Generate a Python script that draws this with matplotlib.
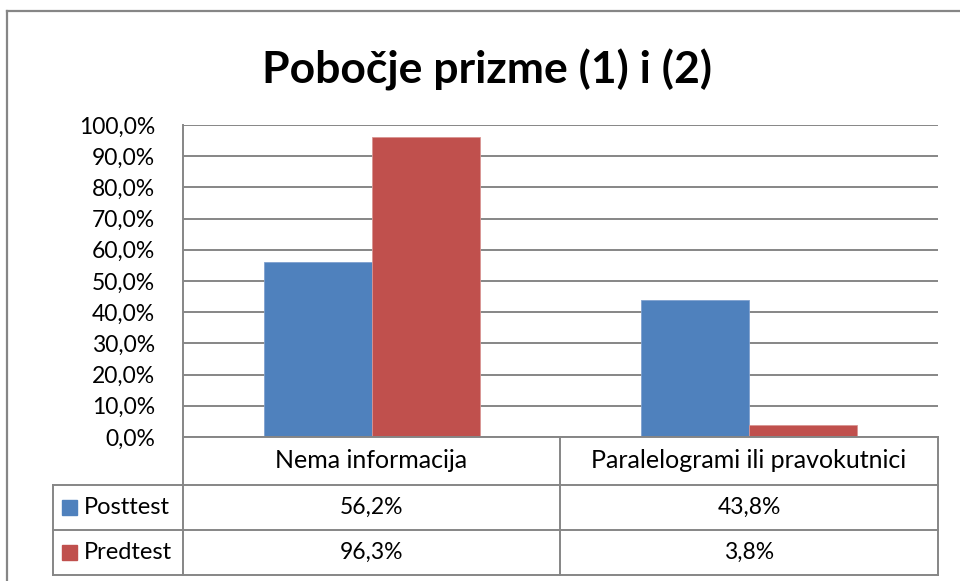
import matplotlib.pyplot as plt
from matplotlib.lines import Line2D
from matplotlib.patches import Rectangle
import numpy as np

# Data
categories = ["Nema informacija", "Paralelogrami ili pravokutnici"]
series_names = ["Posttest", "Predtest"]
posttest = [56.2, 43.8]
predtest = [96.3, 3.8]
yticks = [0, 10, 20, 30, 40, 50, 60, 70, 80, 90, 100]

BLUE = "#4F81BD"
RED = "#C0504D"
GRID = "#868686"
FONT = "Lato"

W, H = 960, 581
fig = plt.figure(figsize=(W / 100, H / 100), dpi=100)
plt.rcParams['font.family'] = [FONT, 'DejaVu Sans']


def fx(px):
    return px / W


def fy(py):
    return 1 - py / H


def hline(y, x0, x1, lw=1.4):
    fig.add_artist(Line2D([fx(x0), fx(x1)], [fy(y), fy(y)], color=GRID, lw=lw))


def vline(x, y0, y1, lw=1.4):
    fig.add_artist(Line2D([fx(x), fx(x)], [fy(y0), fy(y1)], color=GRID, lw=lw))


# plot area in pixels
left, right, top, bottom = 183, 938, 125, 437
ax = fig.add_axes([fx(left), fy(bottom), fx(right - left), (bottom - top) / H])

x = np.arange(len(categories))
bw = 0.286
ax.bar(x - bw / 2, posttest, bw, color=BLUE, edgecolor="#7FA1CF", lw=0.6, zorder=3)
ax.bar(x + bw / 2, predtest, bw, color=RED, edgecolor="#D99593", lw=0.6, zorder=3)

ax.set_xlim(-0.5, len(categories) - 0.5)
ax.set_ylim(0, 100)
ax.set_yticks(yticks)
ax.set_yticklabels([f"{v:.1f}%".replace(".", ",") for v in yticks], fontsize=16.5)
ax.tick_params(axis="y", length=0, pad=20)
ax.set_xticks([])
ax.grid(axis="y", color=GRID, lw=1.4, zorder=0)
for s in ["top", "right", "bottom"]:
    ax.spines[s].set_visible(False)
ax.spines["left"].set_color(GRID)
ax.spines["left"].set_linewidth(1.4)

# data table under the plot
col_x = [53, 183, 560, 938]
row_y = [437, 485, 530, 575]
hline(row_y[0], col_x[1], col_x[3])
for y in row_y[1:]:
    hline(y, col_x[0], col_x[3])
for xx in col_x[1:]:
    vline(xx, row_y[0], row_y[3])
vline(col_x[0], row_y[1], row_y[3])

for i, cat in enumerate(categories):
    cx = (col_x[i + 1] + col_x[i + 2]) / 2
    fig.text(fx(cx), fy((row_y[0] + row_y[1]) / 2), cat, ha="center", va="center", fontsize=18)

rows = [(series_names[0], posttest, BLUE), (series_names[1], predtest, RED)]
for r, (name, vals, color) in enumerate(rows):
    cy = (row_y[r + 1] + row_y[r + 2]) / 2
    fig.add_artist(Rectangle((fx(62), fy(cy + 7)), 15 / W, 15 / H, color=color))
    fig.text(fx(84), fy(cy), name, ha="left", va="center", fontsize=17)
    for i, v in enumerate(vals):
        cx = (col_x[i + 1] + col_x[i + 2]) / 2
        fig.text(fx(cx), fy(cy), f"{v:.1f}%".replace(".", ","), ha="center", va="center", fontsize=16.5)

# chart border
hline(11, 7, 970, lw=1.6)
vline(7, 11, 590, lw=1.6)

fig.text(fx(487), fy(70), "Pobočje prizme (1) i (2)", ha="center", va="center",
         fontsize=32, fontweight="bold")

fig.savefig("out.png", dpi=100)
